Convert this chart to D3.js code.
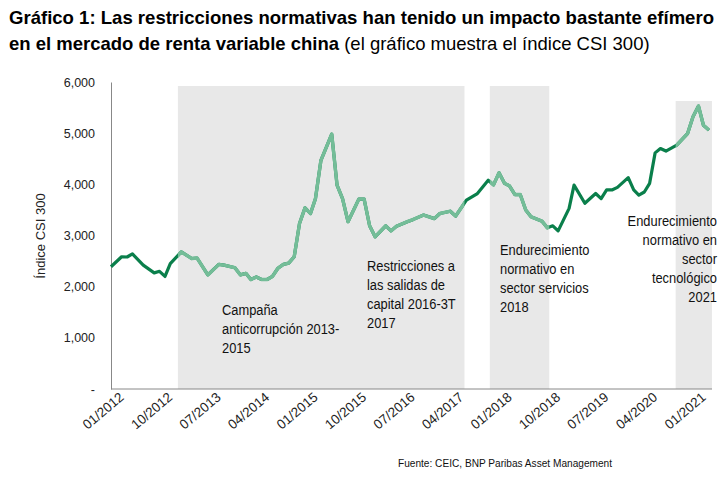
<!DOCTYPE html>
<html><head><meta charset="utf-8">
<script src="https://cdn.jsdelivr.net/npm/d3@7"></script>
<style>body{margin:0;background:#fff}text{font-family:"Liberation Sans",Arial,sans-serif}</style>
</head><body><div id="chart"></div>
<script>
const dates = ["2012-01","2012-03","2012-04","2012-05","2012-07","2012-09","2012-10","2012-11","2012-12","2013-02","2013-04","2013-05","2013-07","2013-09","2013-10","2013-12","2014-01","2014-02","2014-03","2014-04","2014-05","2014-06","2014-07","2014-08","2014-09","2014-10","2014-11","2014-12","2015-01","2015-02","2015-03","2015-04","2015-06","2015-07","2015-08","2015-09","2015-11","2015-12","2016-01","2016-02","2016-04","2016-05","2016-06","2016-08","2016-09","2016-11","2017-01","2017-02","2017-04","2017-05","2017-07","2017-09","2017-11","2017-12","2018-01","2018-02","2018-03","2018-04","2018-05","2018-06","2018-07","2018-09","2018-10","2018-11","2018-12","2019-02","2019-03","2019-05","2019-07","2019-08","2019-09","2019-10","2019-11","2020-01","2020-02","2020-03","2020-04","2020-05","2020-06","2020-07","2020-08","2020-10","2020-12","2021-01","2021-02","2021-03","2021-04"];
const csi300 = [2390,2585,2580,2640,2420,2270,2300,2200,2450,2680,2550,2560,2230,2435,2420,2370,2230,2260,2140,2190,2140,2140,2200,2360,2435,2460,2585,3235,3540,3430,3720,4470,4980,3985,3720,3270,3710,3710,3190,2975,3190,3090,3180,3270,3310,3400,3330,3430,3475,3380,3690,3820,4080,3990,4225,4020,3970,3800,3800,3500,3365,3280,3150,3190,3090,3530,3985,3630,3820,3720,3890,3890,3940,4130,3890,3790,3850,4020,4615,4700,4650,4765,4990,5320,5530,5155,5060];
const bandStarts = ["2013-01-13","2017-11-10","2020-09-25"];
const bandEnds = ["2017-06-20","2018-10-12","2021-04-18"];
const bandLabels = [
  ["Campaña","anticorrupción 2013-","2015"],
  ["Restricciones a","las salidas de","capital 2016-3T","2017"],
  ["Endurecimiento","normativo en","sector servicios","2018"],
  ["Endurecimiento","normativo en","sector","tecnológico","2021"]
];
const yTicks = [0,1000,2000,3000,4000,5000,6000];
const xTickDates = ["2012-01","2012-10","2013-07","2014-04","2015-01","2015-10","2016-07","2017-04","2018-01","2018-10","2019-07","2020-04","2021-01"];

const W = 725, H = 478;
const svg = d3.select("#chart").append("svg").attr("width", W).attr("height", H);
const parseM = d3.timeParse("%Y-%m"), parseD = d3.timeParse("%Y-%m-%d");
const data = dates.map((d, i) => ({date: parseM(d), v: csi300[i]}));

const x = d3.scaleTime().domain([parseM("2012-01"), parseM("2021-01")]).range([111, 693]);
const y = d3.scaleLinear().domain([0, 6000]).range([389, 82]);

// title
const t = svg.append("text").attr("x", 9).attr("y", 24).attr("font-size", 18.5).attr("fill", "#000")
  .attr("textLength", 705).attr("lengthAdjust", "spacingAndGlyphs");
t.append("tspan").attr("font-weight", "bold").text("Gráfico 1: Las restricciones normativas han tenido un impacto bastante efímero");
const t2 = svg.append("text").attr("x", 9).attr("y", 50).attr("font-size", 18.5).attr("fill", "#000");
t2.append("tspan").attr("font-weight", "bold").text("en el mercado de renta variable china");
t2.append("tspan").text(" (el gráfico muestra el índice CSI 300)");

// bands
bandStarts.forEach((s, i) => {
  svg.append("rect")
    .attr("x", x(parseD(s))).attr("y", i == 2 ? 101 : 86)
    .attr("width", x(parseD(bandEnds[i])) - x(parseD(s)))
    .attr("height", 389 - (i == 2 ? 101 : 86))
    .attr("fill", "#e8e8e8");
});

// axes
const yAxis = svg.append("g").attr("transform", "translate(111,0)")
  .call(d3.axisLeft(y).tickValues(yTicks).tickSize(0).tickPadding(16)
    .tickFormat(d => d === 0 ? "-" : d3.format(",")(d)));
yAxis.select(".domain").attr("stroke", "#888");
yAxis.selectAll("text").attr("font-size", 12.5).attr("fill", "#222");

const xAxis = svg.append("g").attr("transform", "translate(0,389)")
  .call(d3.axisBottom(x).tickValues(xTickDates.map(parseM)).tickSize(0).tickFormat(d3.timeFormat("%m/%Y")));
xAxis.select(".domain").attr("stroke", "#888").attr("d", "M111,0H712");
xAxis.selectAll("text").attr("font-size", 13.5).attr("fill", "#222")
  .attr("text-anchor", "end").attr("dx", "4").attr("dy", "13").attr("transform", "rotate(-40)");

svg.append("text").attr("transform", "translate(45,236) rotate(-90)").attr("text-anchor", "middle")
  .attr("font-size", 13).attr("fill", "#222").text("Índice CSI 300");

// line, dark outside bands and light inside
const line = d3.line().x(d => x(d.date)).y(d => y(d.v));
const defs = svg.append("defs");
const clip = defs.append("clipPath").attr("id", "bandclip");
bandStarts.forEach((s, i) => {
  clip.append("rect").attr("x", x(parseD(s))).attr("y", 0)
    .attr("width", x(parseD(bandEnds[i])) - x(parseD(s))).attr("height", H);
});
svg.append("path").datum(data).attr("fill", "none").attr("stroke", "#0a7f4b")
  .attr("stroke-width", 3.2).attr("stroke-linejoin", "round").attr("d", line);
svg.append("path").datum(data).attr("fill", "none").attr("stroke", "#74bd98")
  .attr("stroke-width", 3.4).attr("stroke-linejoin", "round").attr("clip-path", "url(#bandclip)").attr("d", line);

// annotations
const ann = [{x: 222, y: 315, a: "start"}, {x: 367, y: 271, a: "start"}, {x: 500, y: 255, a: "start"}, {x: 717, y: 226, a: "end"}];
bandLabels.forEach((lines, i) => {
  const tx = svg.append("text").attr("font-size", 14).attr("fill", "#111").attr("text-anchor", ann[i].a)
    .attr("transform", `translate(${ann[i].x},0) scale(0.92,1) translate(${-ann[i].x},0)`);
  lines.forEach((l, j) => tx.append("tspan").attr("x", ann[i].x).attr("y", ann[i].y + j * 19).text(l));
});

svg.append("text").attr("x", 398).attr("y", 467).attr("font-size", 10.5).attr("fill", "#111")
  .attr("textLength", 214).attr("lengthAdjust", "spacingAndGlyphs")
  .text("Fuente: CEIC, BNP Paribas Asset Management");
</script></body></html>
